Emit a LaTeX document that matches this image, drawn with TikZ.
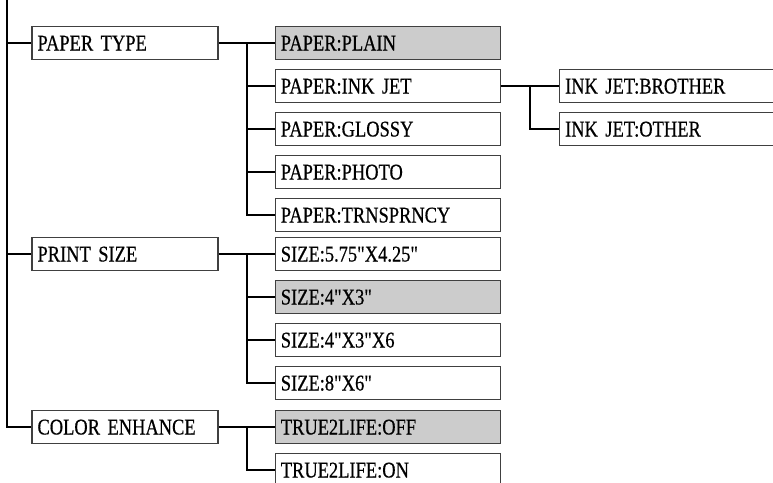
\documentclass[tikz,border=0pt]{standalone}
\usepackage{fontspec}
\setmainfont{Liberation Serif}[FakeStretch=0.82, FakeBold=0.5]
\usetikzlibrary{positioning,calc}
\newcommand{\qq}{\textquotedbl\kern-1.5pt}
\newcommand{\boxfont}{\fontsize{22.5}{24}\selectfont\spaceskip 3.5pt\relax}

\begin{document}
\begin{tikzpicture}[x=1pt, y=-1pt, node distance=8.7pt and 56pt]
\tikzstyle{mbox}=[draw=black!75, line width=1.3pt, minimum height=33pt,
  text height=15pt, text depth=0pt, inner xsep=5.5pt, align=left,
  font=\boxfont]
\tikzstyle{lvone}=[mbox, text width=175pt]
\tikzstyle{lvtwo}=[mbox, text width=214pt]
\tikzstyle{sel}=[fill=black!20]
\tikzstyle{wire}=[line width=2pt]
\path[use as bounding box, clip] (0,0) rectangle (773,482);
% first level
\node[lvone] (ptype) at (125,43) {PAPER TYPE};
\node[lvone] (psize) at (125,254) {PRINT SIZE};
\node[lvone] (cenh) at (125,427) {COLOR ENHANCE};
% paper type
\node[lvtwo, sel, right=of ptype] (plain) {PAPER:PLAIN};
\node[lvtwo, below=of plain] (inkjet) {PAPER:INK JET};
\node[lvtwo, below=of inkjet] (glossy) {PAPER:GLOSSY};
\node[lvtwo, below=of glossy] (photo) {PAPER:PHOTO};
\node[lvtwo, below=of photo] (trans) {PAPER:TRNSPRNCY};
\node[lvtwo, right=58pt of inkjet] (brother) {INK JET:BROTHER};
\node[lvtwo, below=of brother] (other) {INK JET:OTHER};
% print size
\node[lvtwo, right=of psize] (sza) {SIZE:5.75\qq X4.25\qq};
\node[lvtwo, sel, below=of sza] (szb) {SIZE:4\qq X3\qq};
\node[lvtwo, below=of szb] (szc) {SIZE:4\qq X3\qq X6};
\node[lvtwo, below=of szc] (szd) {SIZE:8\qq X6\qq};
% color enhance
\node[lvtwo, sel, right=of cenh] (toff) {TRUE2LIFE:OFF};
\node[lvtwo, below=of toff] (ton) {TRUE2LIFE:ON};
% connectors
\coordinate (spine) at (7,0);
\foreach \n in {ptype,psize,cenh}
  \draw[wire] (spine) |- (\n.west);
\coordinate (bpt) at ($(ptype.east)!0.5!(plain.west)$);
\draw[wire] (ptype.east) -- (plain.west);
\foreach \n in {inkjet,glossy,photo,trans}
  \draw[wire] (bpt) |- (\n.west);
\coordinate (bij) at ($(inkjet.east)!0.5!(brother.west)$);
\draw[wire] (inkjet.east) -- (brother.west);
\draw[wire] (bij) |- (other.west);
\coordinate (bps) at ($(psize.east)!0.5!(sza.west)$);
\draw[wire] (psize.east) -- (sza.west);
\foreach \n in {szb,szc,szd}
  \draw[wire] (bps) |- (\n.west);
\coordinate (bce) at ($(cenh.east)!0.5!(toff.west)$);
\draw[wire] (cenh.east) -- (toff.west);
\draw[wire] (bce) |- (ton.west);
\end{tikzpicture}
\end{document}
